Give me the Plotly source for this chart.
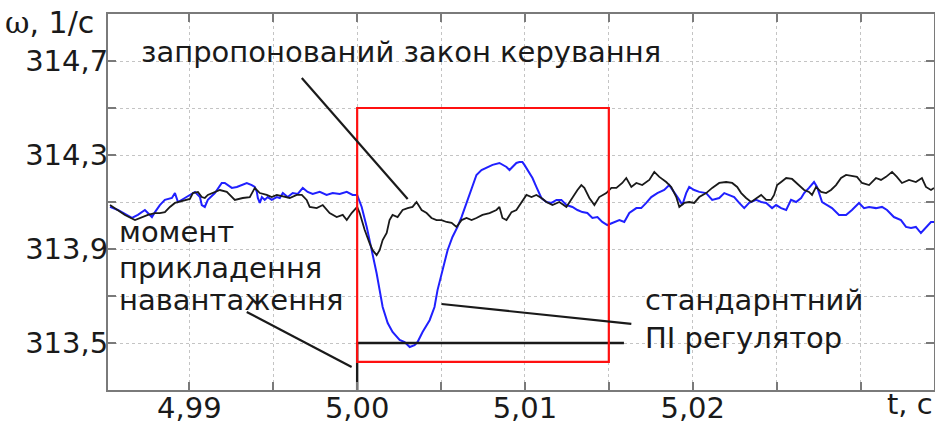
import plotly.graph_objects as go

# ---- data ----
# proposed control law (black)
t_prop = [4.98527, 4.98616, 4.98676, 4.98717, 4.98753, 4.98795, 4.98824, 4.98854, 4.98884, 4.98914,
          4.98932, 4.98973, 4.99003, 4.99021, 4.99051, 4.99074, 4.99092, 4.99110, 4.99152, 4.99182,
          4.99223, 4.99253, 4.99271, 4.99318, 4.99360, 4.99390, 4.99420, 4.99461, 4.99491, 4.99521,
          4.99568, 4.99598, 4.99640, 4.99670, 4.99699, 4.99717, 4.99759, 4.99795, 4.99836, 4.99878,
          4.99914, 4.99938, 4.99967, 5.00000, 5.00015, 5.00045, 5.00074, 5.00092, 5.00116, 5.00134,
          5.00152, 5.00176, 5.00193, 5.00211, 5.00241, 5.00271, 5.00301, 5.00330, 5.00354, 5.00384,
          5.00414, 5.00443, 5.00473, 5.00503, 5.00533, 5.00563, 5.00592, 5.00622, 5.00652, 5.00682,
          5.00711, 5.00747, 5.00789, 5.00830, 5.00848, 5.00866, 5.00890, 5.00920, 5.00949, 5.00979,
          5.01009, 5.01039, 5.01068, 5.01098, 5.01128, 5.01164, 5.01205, 5.01247, 5.01283, 5.01313,
          5.01336, 5.01354, 5.01384, 5.01414, 5.01443, 5.01485, 5.01515, 5.01545, 5.01580, 5.01604,
          5.01634, 5.01664, 5.01699, 5.01741, 5.01771, 5.01801, 5.01842, 5.01872, 5.01902, 5.01920,
          5.01949, 5.01979, 5.02009, 5.02039, 5.02080, 5.02116, 5.02158, 5.02199, 5.02235, 5.02265,
          5.02289, 5.02318, 5.02348, 5.02378, 5.02408, 5.02438, 5.02467, 5.02485, 5.02503, 5.02527,
          5.02557, 5.02592, 5.02634, 5.02664, 5.02693, 5.02711, 5.02735, 5.02765, 5.02795, 5.02824,
          5.02854, 5.02884, 5.02914, 5.02949, 5.02979, 5.03009, 5.03051, 5.03092, 5.03122, 5.03152,
          5.03188, 5.03217, 5.03247, 5.03289, 5.03330, 5.03366, 5.03390, 5.03420, 5.03438]
w_prop = [314.087, 314.045, 314.023, 314.036, 314.045, 314.053, 314.053, 314.057, 314.079, 314.096,
          314.100, 314.109, 314.113, 314.138, 314.143, 314.121, 314.117, 314.130, 314.143, 314.151,
          314.143, 314.121, 314.109, 314.117, 314.121, 314.160, 314.138, 314.130, 314.121, 314.130,
          314.121, 314.117, 314.130, 314.130, 314.109, 314.079, 314.074, 314.087, 314.053, 314.036,
          314.045, 314.023, 314.053, 314.079, 314.053, 313.981, 313.925, 313.895, 313.874, 313.895,
          313.938, 313.968, 314.023, 314.045, 314.036, 314.066, 314.074, 314.079, 314.100, 314.066,
          314.053, 314.032, 314.023, 314.023, 314.015, 314.011, 313.994, 314.023, 314.032, 314.023,
          314.032, 314.045, 314.053, 314.066, 314.079, 314.032, 314.023, 314.057, 314.066, 314.096,
          314.130, 314.121, 314.130, 314.117, 314.100, 314.087, 314.100, 314.079, 314.121, 314.151,
          314.172, 314.160, 314.117, 314.087, 314.121, 314.138, 314.160, 314.160, 314.181, 314.202,
          314.164, 314.181, 314.172, 314.194, 314.228, 314.207, 314.185, 314.164, 314.121, 314.079,
          314.096, 314.100, 314.096, 314.121, 314.138, 314.160, 314.181, 314.185, 314.181, 314.164,
          314.138, 314.117, 314.100, 314.117, 314.130, 314.109, 314.109, 314.130, 314.172, 314.185,
          314.202, 314.198, 314.172, 314.151, 314.143, 314.130, 314.164, 314.143, 314.138, 314.151,
          314.172, 314.202, 314.215, 314.211, 314.207, 314.181, 314.172, 314.202, 314.194, 314.207,
          314.228, 314.207, 314.181, 314.194, 314.185, 314.202, 314.164, 314.151, 314.160]

# standard PI regulator (blue)
t_pi = [4.98527, 4.98574, 4.98658, 4.98693, 4.98735, 4.98777, 4.98795, 4.98824, 4.98854, 4.98896,
        4.98914, 4.98932, 4.98973, 4.99003, 4.99033, 4.99063, 4.99074, 4.99092, 4.99110, 4.99152,
        4.99193, 4.99211, 4.99253, 4.99283, 4.99342, 4.99372, 4.99390, 4.99402, 4.99408, 4.99420,
        4.99432, 4.99449, 4.99467, 4.99491, 4.99521, 4.99539, 4.99557, 4.99586, 4.99616, 4.99646,
        4.99676, 4.99705, 4.99735, 4.99777, 4.99818, 4.99854, 4.99896, 4.99938, 4.99973, 5.00000,
        5.00027, 5.00057, 5.00074, 5.00092, 5.00116, 5.00134, 5.00152, 5.00182, 5.00211, 5.00253,
        5.00283, 5.00313, 5.00342, 5.00360, 5.00390, 5.00432, 5.00461, 5.00479, 5.00509, 5.00539,
        5.00568, 5.00598, 5.00622, 5.00652, 5.00682, 5.00711, 5.00741, 5.00771, 5.00807, 5.00848,
        5.00890, 5.00908, 5.00926, 5.00949, 5.00967, 5.00985, 5.00997, 5.01015, 5.01045, 5.01068,
        5.01098, 5.01128, 5.01158, 5.01188, 5.01217, 5.01247, 5.01283, 5.01313, 5.01342, 5.01372,
        5.01402, 5.01432, 5.01461, 5.01491, 5.01533, 5.01563, 5.01592, 5.01622, 5.01664, 5.01693,
        5.01723, 5.01753, 5.01789, 5.01830, 5.01860, 5.01890, 5.01920, 5.01938, 5.01961, 5.01979,
        5.02009, 5.02039, 5.02080, 5.02116, 5.02158, 5.02188, 5.02217, 5.02247, 5.02277, 5.02307,
        5.02336, 5.02378, 5.02408, 5.02438, 5.02473, 5.02497, 5.02527, 5.02557, 5.02586, 5.02616,
        5.02646, 5.02664, 5.02693, 5.02723, 5.02741, 5.02753, 5.02771, 5.02801, 5.02830, 5.02872,
        5.02914, 5.02949, 5.02991, 5.03021, 5.03051, 5.03092, 5.03128, 5.03158, 5.03199, 5.03241,
        5.03271, 5.03301, 5.03330, 5.03360, 5.03390, 5.03420, 5.03438]
w_pi = [314.079, 314.066, 314.032, 314.045, 314.066, 314.036, 314.057, 314.087, 314.109, 314.117,
        314.138, 314.100, 314.117, 314.130, 314.143, 314.121, 314.087, 314.079, 314.109, 314.138,
        314.181, 314.181, 314.160, 314.164, 314.181, 314.172, 314.164, 314.143, 314.117, 314.096,
        314.121, 314.109, 314.121, 314.109, 314.121, 314.117, 314.138, 314.121, 314.138, 314.134,
        314.160, 314.143, 314.134, 314.143, 314.130, 314.138, 314.134, 314.143, 314.130, 314.130,
        314.079, 313.994, 313.938, 313.866, 313.797, 313.725, 313.653, 313.585, 313.547, 313.513,
        313.504, 313.483, 313.491, 313.504, 313.547, 313.597, 313.653, 313.725, 313.810, 313.895,
        313.951, 313.994, 314.036, 314.096, 314.164, 314.215, 314.236, 314.245, 314.258, 314.266,
        314.249, 314.236, 314.249, 314.266, 314.270, 314.270, 314.258, 314.236, 314.202, 314.164,
        314.117, 314.100, 314.096, 314.109, 314.109, 314.087, 314.079, 314.066, 314.057, 314.053,
        314.032, 314.036, 314.015, 314.002, 314.015, 314.023, 314.015, 314.053, 314.074, 314.074,
        314.096, 314.121, 314.138, 314.151, 314.172, 314.143, 314.109, 314.087, 314.138, 314.164,
        314.151, 314.143, 314.138, 314.109, 314.117, 314.138, 314.130, 314.121, 314.096, 314.074,
        314.096, 314.109, 314.100, 314.096, 314.074, 314.087, 314.074, 314.066, 314.109, 314.100,
        314.117, 314.138, 314.160, 314.185, 314.164, 314.138, 314.100, 314.087, 314.074, 314.045,
        314.045, 314.066, 314.096, 314.074, 314.079, 314.074, 314.079, 314.066, 314.036, 314.023,
        313.994, 313.989, 313.994, 313.968, 313.994, 314.015, 314.015]

# load application step (black step line)
t_load = [5.00000, 5.00000, 5.01590]
w_load = [313.30, 313.50, 313.50]

# highlighted region (red frame)
frame_t = [5.000, 5.015]
frame_w = [313.42, 314.50]

# axis ticks
x_tickvals = [4.990, 4.995, 5.000, 5.005, 5.010, 5.015, 5.020, 5.025, 5.030]
x_ticktext = ["4,99", "", "5,00", "", "5,01", "", "5,02", "", ""]
y_tickvals = [313.5, 313.7, 313.9, 314.1, 314.3, 314.5, 314.7]
y_ticktext = ["313,5", "", "313,9", "", "314,3", "", "314,7"]

FONT = "DejaVu Sans"
TXT = "#1a1a1a"

fig = go.Figure()
fig.add_trace(go.Scatter(x=t_pi, y=w_pi, mode="lines",
                         line=dict(color="#2020ff", width=2), hoverinfo="skip"))
fig.add_trace(go.Scatter(x=t_prop, y=w_prop, mode="lines",
                         line=dict(color="#1a1a1a", width=1.8), hoverinfo="skip"))
fig.add_trace(go.Scatter(x=t_load, y=w_load, mode="lines",
                         line=dict(color="#1a1a1a", width=2.4), hoverinfo="skip"))

# red frame
fig.add_shape(type="rect", xref="x", yref="y",
              x0=frame_t[0], x1=frame_t[1], y0=frame_w[0], y1=frame_w[1],
              line=dict(color="#ff1010", width=2.2), layer="above")

# pointer lines
pointers = [
    (4.99670, 314.628, 5.00301, 314.113),
    (4.99342, 313.632, 4.99967, 313.398),
    (5.00503, 313.666, 5.01634, 313.581),
]
for x0, y0, x1, y1 in pointers:
    fig.add_shape(type="line", xref="x", yref="y", x0=x0, y0=y0, x1=x1, y1=y1,
                  line=dict(color="#1a1a1a", width=2.2), layer="above")

ann_font = dict(family=FONT, size=29, color=TXT)
texts = [
    ("запропонований закон керування", 4.98705, 314.738),
    ("момент", 4.98574, 313.972),
    ("прикладення", 4.98574, 313.819),
    ("навантаження", 4.98574, 313.683),
    ("стандарнтний", 5.01711, 313.683),
    ("ПІ регулятор", 5.01711, 313.521),
]
for txt, x, y in texts:
    fig.add_annotation(text=txt, x=x, y=y, xref="x", yref="y", xanchor="left",
                       yanchor="middle", showarrow=False, font=ann_font, borderpad=0)

W, H = 935, 425
pl, pr, pt, pb = 108, 1, 14, 35
pw, ph = W - pl - pr, H - pt - pb

fig.add_annotation(text="<span style='font-family:DejaVu Serif'>ω</span>, 1/с",
                   x=(4 - pl) / pw, y=1 - (22 - pt) / ph,
                   xref="paper", yref="paper", showarrow=False,
                   font=dict(family=FONT, size=30, color=TXT),
                   xanchor="left", yanchor="middle", borderpad=0)
fig.add_annotation(text="t, с", x=(934 - pl) / pw, y=1 - (404 - pt) / ph,
                   xref="paper", yref="paper", showarrow=False,
                   font=ann_font, xanchor="right", yanchor="middle", borderpad=0)

fig.update_layout(
    width=W, height=H,
    margin=dict(l=pl, r=pr, t=pt, b=pb, autoexpand=False),
    paper_bgcolor="white", plot_bgcolor="white",
    showlegend=False,
)

fig.update_xaxes(range=[4.98515, 5.03438], tickvals=x_tickvals, ticktext=x_ticktext,
                 automargin=False, ticklabelstandoff=-9,
                 showline=True, linecolor="#7a7a7a", linewidth=2, mirror="ticks",
                 ticks="inside", ticklen=8, tickwidth=1.5, tickcolor="#7a7a7a",
                 showgrid=True, gridcolor="#c4c4c4", griddash="dot", gridwidth=1,
                 zeroline=False, tickfont=dict(family=FONT, size=29, color=TXT))
fig.update_yaxes(range=[313.3, 314.9], tickvals=y_tickvals, ticktext=y_ticktext,
                 automargin=False, ticklabelstandoff=-8,
                 showline=True, linecolor="#7a7a7a", linewidth=2, mirror="ticks",
                 ticks="inside", ticklen=8, tickwidth=1.5, tickcolor="#7a7a7a",
                 showgrid=True, gridcolor="#c4c4c4", griddash="dot", gridwidth=1,
                 zeroline=False, tickfont=dict(family=FONT, size=29, color=TXT))

fig.write_html("out.html", config={"displayModeBar": False},
               post_script="document.body.style.margin='0';document.body.style.padding='0';")
